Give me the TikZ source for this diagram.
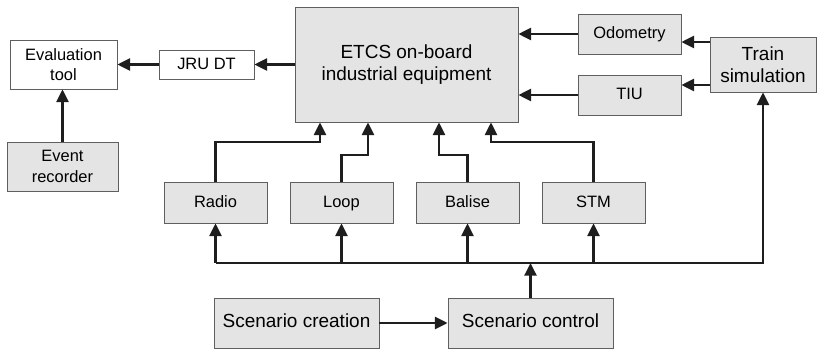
\documentclass[tikz,border=0pt]{standalone}
\usepackage{fontspec}
\setmainfont{Liberation Sans}
\usetikzlibrary{arrows.meta}
\usetikzlibrary{calc}
\usetikzlibrary{math}

\definecolor{boxgray}{RGB}{228,228,228}
\definecolor{edgegray}{RGB}{95,95,95}
\definecolor{linegray}{RGB}{30,30,30}

\tikzset{
  box/.style={draw=edgegray, line width=0.5pt, fill=boxgray, align=center,
    inner sep=0pt, font=\fontsize{11.7}{14.5}\selectfont},
  wbox/.style={box, fill=white},
  bigbox/.style={box, font=\fontsize{13.5}{16}\selectfont},
  oneline/.style={text height=1.75ex, text depth=0.45ex},
  arr/.style={draw=linegray, line width=1.8pt, -{Triangle[length=9pt,width=8.5pt]}},
}

\begin{document}
\begin{tikzpicture}[x=0.025cm,y=-0.025cm]

  \tikzmath{
    \busy   = 263; % height of the scenario bus
    \benda  = 142; % bend of radio and stm inputs
    \bendb  = 155; % bend of loop and balise inputs
  }

  \useasboundingbox (0,0) rectangle (817,349);

  % evaluation side
  \node[wbox, minimum width=2.675cm, minimum height=1.225cm] (eval) at (63.5,64.5) {Evaluation\\tool};
  \node[wbox, oneline, minimum width=2.375cm, minimum height=0.725cm] (jru) at (206.5,64.5) {JRU DT};
  \node[box, minimum width=2.775cm, minimum height=1.225cm] (event) at (62.5,166.5) {Event\\recorder};

  % on-board equipment
  \node[bigbox, minimum width=5.575cm, minimum height=2.875cm] (etcs) at (406.5,64.5) {ETCS on-board\\industrial equipment};

  % train side
  \node[box, oneline, minimum width=2.575cm, minimum height=1.0cm] (odo) at (629.5,34) {Odometry};
  \node[box, oneline, minimum width=2.575cm, minimum height=1.0cm] (tiu) at (629.5,95) {TIU};
  \node[bigbox, minimum width=2.65cm, minimum height=1.375cm] (train) at (763,64.5) {Train\\simulation};

  % track side
  \node[box, oneline, minimum width=2.575cm, minimum height=1.025cm] (radio) at (215.5,202.5) {Radio};
  \node[box, oneline, minimum width=2.575cm, minimum height=1.025cm] (loop) at (341.5,202.5) {Loop};
  \node[box, oneline, minimum width=2.575cm, minimum height=1.025cm] (balise) at (467.5,202.5) {Balise};
  \node[box, oneline, minimum width=2.575cm, minimum height=1.025cm] (stm) at (593.5,202.5) {STM};

  % scenario
  \node[bigbox, oneline, minimum width=4.125cm, minimum height=1.25cm] (creation) at (296.5,323) {Scenario creation};
  \node[bigbox, oneline, minimum width=4.125cm, minimum height=1.25cm] (control) at (530.5,323) {Scenario control};

  \coordinate (bus) at (0,\busy);

  % evaluation chain
  \draw[arr] (etcs.west) -- (jru.east);
  \draw[arr] (jru.west) -- (eval.east);
  \draw[arr] (event.north) -- (event.north |- eval.south);

  % train inputs
  \draw[arr] (odo.west) -- (odo.west -| etcs.east);
  \draw[arr] (tiu.west) -- (tiu.west -| etcs.east);
  \draw[arr] (train.west |- 0,42) -- (odo.east |- 0,42);
  \draw[arr] (train.west |- 0,85) -- (tiu.east |- 0,85);

  % track inputs
  \draw[arr] (radio.north) |- (320,\benda) -- (etcs.south -| 320,0);
  \draw[arr] (loop.north) |- (368,\bendb) -- (etcs.south -| 368,0);
  \draw[arr] (balise.north) |- (439,\bendb) -- (etcs.south -| 439,0);
  \draw[arr] (stm.north) |- (491,\benda) -- (etcs.south -| 491,0);

  % scenario bus
  \draw[arr] (radio.south |- bus) -- (train.south |- bus) -- (train.south);
  \draw[arr] (radio.south |- bus) -- (radio.south);
  \draw[arr] (loop.south |- bus) -- (loop.south);
  \draw[arr] (balise.south |- bus) -- (balise.south);
  \draw[arr] (stm.south |- bus) -- (stm.south);
  \draw[arr] (control.north) -- (control.north |- bus);
  \draw[arr] (creation.east) -- (control.west);

\end{tikzpicture}
\end{document}
